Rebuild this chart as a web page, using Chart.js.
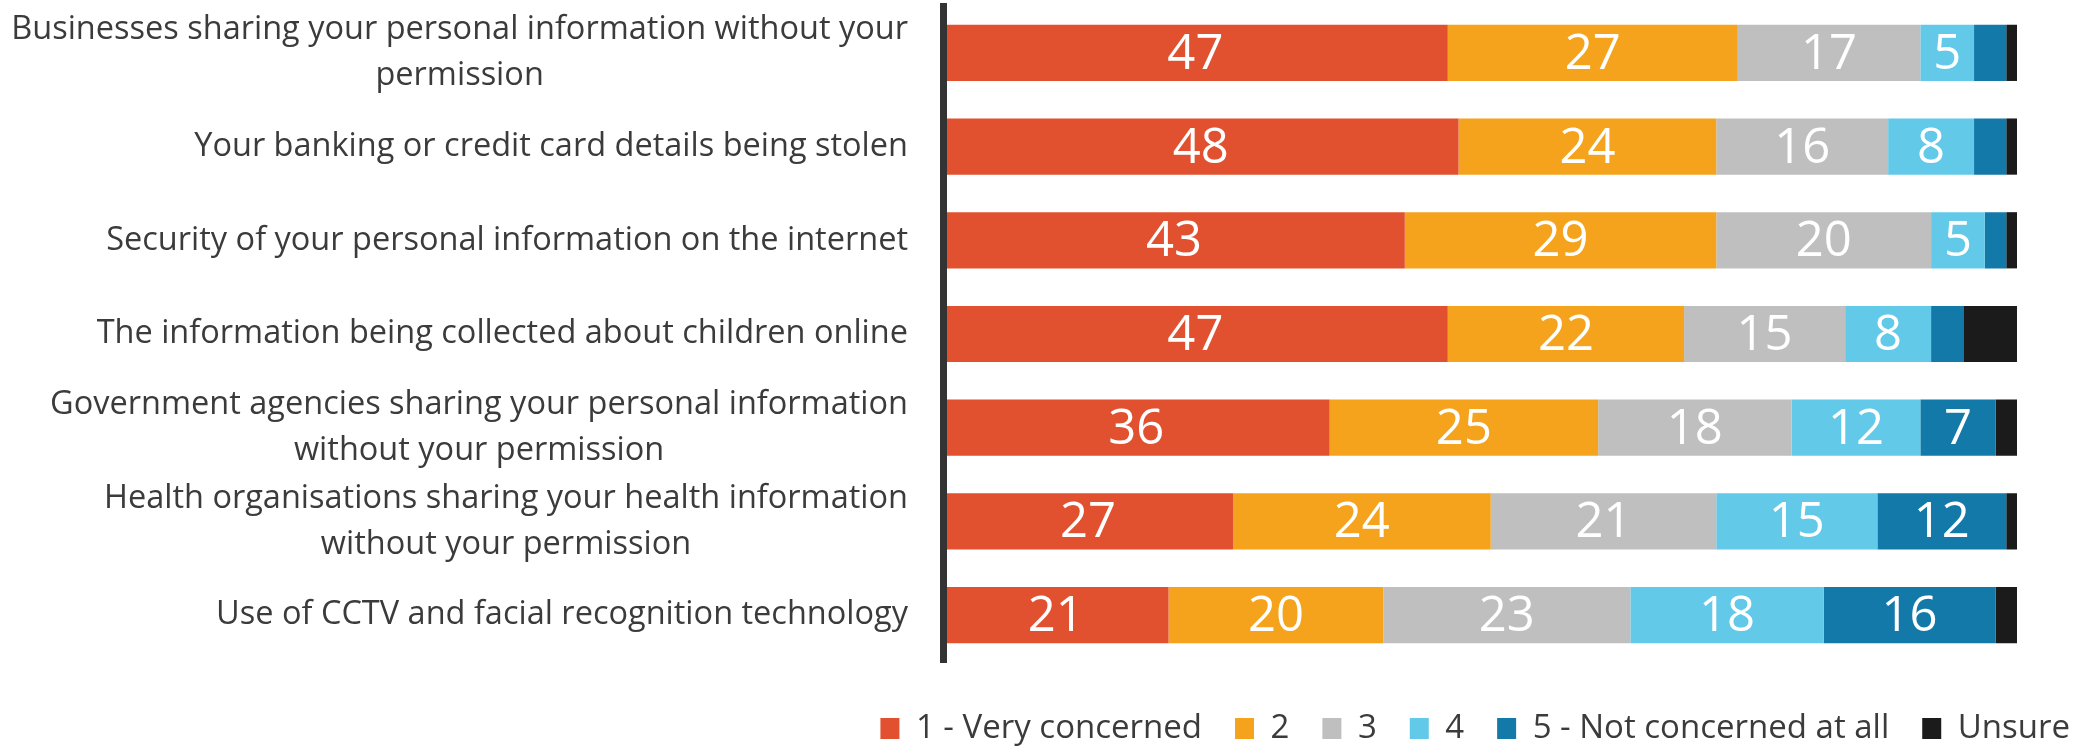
<!DOCTYPE html>
<html>
<head>
<meta charset="utf-8">
<script src="https://cdn.jsdelivr.net/npm/chart.js@4.4.1/dist/chart.umd.min.js"></script>
<style>
  body { margin: 0; background: #fff; }
</style>
</head>
<body>
<canvas id="chart" width="2076" height="746"></canvas>
<script>
// survey items, one label per bar (multi-line where the original wraps)
const categories = [
  ['Businesses sharing your personal information without your', 'permission'],
  ['Your banking or credit card details being stolen'],
  ['Security of your personal information on the internet'],
  ['The information being collected about children online'],
  ['Government agencies sharing your personal information', 'without your permission'],
  ['Health organisations sharing your health information', 'without your permission'],
  ['Use of CCTV and facial recognition technology']
];

const seriesNames = ['1 - Very concerned', '2', '3', '4', '5 - Not concerned at all', 'Unsure'];

// percentages per answer
const veryConcerned = [47, 48, 43, 47, 36, 27, 21];
const answer2 = [27, 24, 29, 22, 25, 24, 20];
const answer3 = [17, 16, 20, 15, 18, 21, 23];
const answer4 = [5, 8, 5, 8, 12, 15, 18];
const notConcerned = [3, 3, 2, 3, 7, 12, 16];
const unsure = [1, 1, 1, 5, 2, 2, 3];

const colors = ['#e1502f', '#f5a31d', '#bfbfbf', '#63c9e8', '#1279a9', '#1b1b1b'];
const series = [veryConcerned, answer2, answer3, answer4, notConcerned, unsure];

const textColor = '#3b3b3b';
Chart.defaults.font.family = '"Open Sans"';

// draws the category labels: lines centred on each other, block right aligned to the axis
const categoryLabels = {
  id: 'categoryLabels',
  afterDraw(chart) {
    const ctx = chart.ctx;
    const yScale = chart.scales.y;
    const right = chart.chartArea.left - 35;
    ctx.save();
    ctx.font = '32.5px "Open Sans"';
    ctx.fillStyle = textColor;
    ctx.textAlign = 'center';
    ctx.textBaseline = 'middle';
    categories.forEach((lines, i) => {
      const y = yScale.getPixelForValue(i);
      const w = Math.max(...lines.map(l => ctx.measureText(l).width));
      lines.forEach((line, j) => {
        ctx.fillText(line, right - w / 2, y + (j - (lines.length - 1) / 2) * 46);
      });
    });
    ctx.restore();
  }
};

// white value labels inside the segments (not for Unsure or tiny ones)
const barValues = {
  id: 'barValues',
  afterDatasetsDraw(chart) {
    const ctx = chart.ctx;
    ctx.save();
    ctx.font = '49px "Open Sans"';
    ctx.fillStyle = '#fff';
    ctx.textAlign = 'center';
    ctx.textBaseline = 'middle';
    chart.data.datasets.forEach((ds, d) => {
      if (d === 5) return;
      chart.getDatasetMeta(d).data.forEach((bar, i) => {
        const v = ds.data[i];
        if (v < 4) return;
        const p = bar.getCenterPoint();
        ctx.fillText(v, p.x, p.y + 2);
      });
    });
    ctx.restore();
  }
};

// push the legend to the bottom right corner
const legendShift = {
  id: 'legendShift',
  afterLayout(chart) {
    const l = chart.legend;
    l.left += 86; l.right += 86;
    l.top += 17; l.bottom += 17;
  }
};

new Chart(document.getElementById('chart'), {
  type: 'bar',
  data: {
    labels: categories,
    datasets: series.map((data, i) => ({
      label: seriesNames[i],
      data: data,
      backgroundColor: colors[i],
      borderWidth: 0,
      barPercentage: 0.6,
      categoryPercentage: 1
    }))
  },
  options: {
    indexAxis: 'y',
    responsive: false,
    animation: false,
    layout: { padding: { left: 0, top: 6, right: 59, bottom: 8 } },
    scales: {
      x: { stacked: true, min: 0, max: 100, display: false },
      y: {
        stacked: true,
        grid: { display: false },
        border: { display: true, width: 7, color: '#333333', z: 1 },
        ticks: { display: false },
        afterFit(scale) { scale.width = 943; }
      }
    },
    plugins: {
      tooltip: { enabled: false },
      legend: {
        position: 'bottom',
        align: 'end',
        labels: {
          boxWidth: 19,
          boxHeight: 21,
          padding: 33,
          color: textColor,
          font: { family: '"Open Sans"', size: 33 }
        }
      }
    }
  },
  plugins: [categoryLabels, barValues, legendShift]
});
</script>
</body>
</html>
